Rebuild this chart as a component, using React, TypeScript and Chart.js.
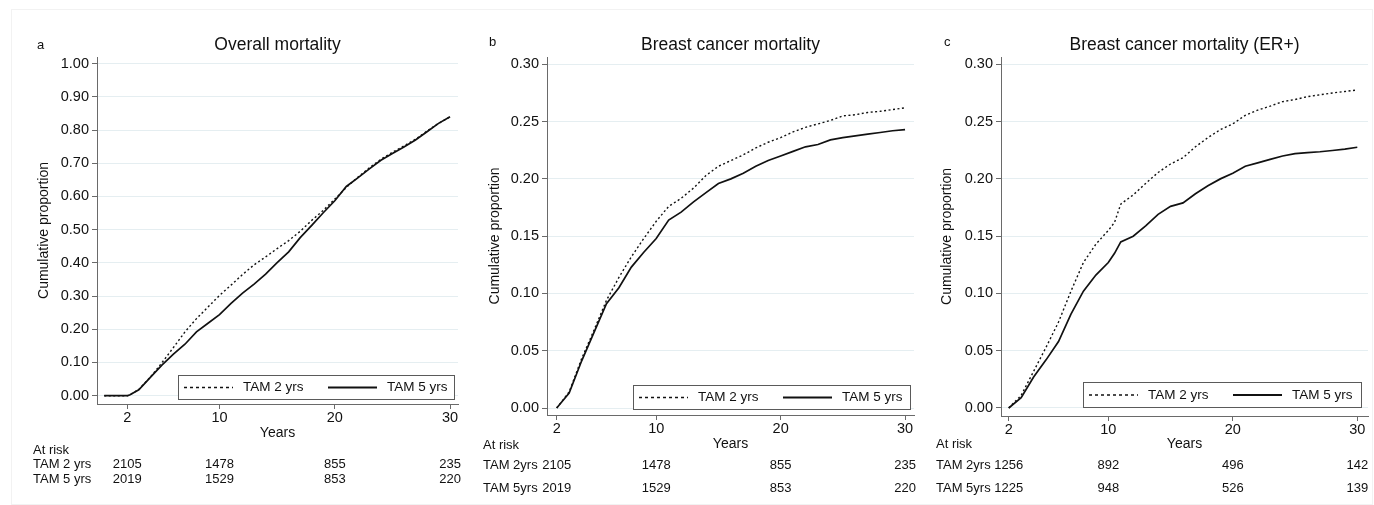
import React, { useEffect, useRef } from "react";
import { Chart, registerables } from "chart.js";

Chart.register(...registerables);

// ---------- DATA ----------
const xTickValues = [2, 10, 20, 30];

const yTicksA = [0, 0.1, 0.2, 0.3, 0.4, 0.5, 0.6, 0.7, 0.8, 0.9, 1.0];
const yTicksBC = [0, 0.05, 0.1, 0.15, 0.2, 0.25, 0.3];

const yearsA = [0, 2, 2.2, 3, 4, 5, 6, 7, 8, 9, 10, 11, 12, 13, 14, 15, 16, 17, 18, 19, 20, 21, 22, 23, 24, 25, 26, 27, 28, 29, 30];
const tam2A = [0, 0, 0.002, 0.019, 0.056, 0.099, 0.145, 0.192, 0.232, 0.267, 0.302, 0.333, 0.365, 0.394, 0.418, 0.443, 0.467, 0.495, 0.528, 0.558, 0.592, 0.627, 0.658, 0.686, 0.712, 0.733, 0.752, 0.772, 0.797, 0.820, 0.840];
const tam5A = [0, 0, 0.002, 0.018, 0.055, 0.092, 0.125, 0.155, 0.192, 0.218, 0.244, 0.278, 0.309, 0.336, 0.366, 0.401, 0.433, 0.476, 0.513, 0.551, 0.587, 0.630, 0.656, 0.683, 0.709, 0.729, 0.749, 0.770, 0.795, 0.820, 0.840];

const yearsB = [2, 3, 4, 5, 6, 7, 8, 9, 10, 11, 12, 13, 14, 15, 16, 17, 18, 19, 20, 21, 22, 23, 24, 25, 26, 27, 28, 29, 30];
const tam2B = [0, 0.014, 0.043, 0.068, 0.094, 0.114, 0.132, 0.148, 0.163, 0.176, 0.183, 0.192, 0.203, 0.211, 0.216, 0.221, 0.227, 0.232, 0.236, 0.241, 0.245, 0.248, 0.251, 0.255, 0.256, 0.258, 0.259, 0.2605, 0.262];
const tam5B = [0, 0.013, 0.041, 0.066, 0.091, 0.105, 0.123, 0.136, 0.148, 0.164, 0.171, 0.180, 0.188, 0.196, 0.200, 0.205, 0.211, 0.216, 0.220, 0.224, 0.228, 0.230, 0.234, 0.236, 0.2375, 0.239, 0.2405, 0.242, 0.243];

const yearsC = [2, 3, 4, 5, 6, 7, 8, 9, 10, 10.5, 11, 12, 13, 14, 15, 16, 17, 18, 19, 20, 21, 22, 23, 24, 25, 26, 27, 28, 29, 30];
const tam2C = [0, 0.011, 0.032, 0.053, 0.075, 0.102, 0.127, 0.143, 0.155, 0.162, 0.178, 0.186, 0.196, 0.2056, 0.213, 0.2185, 0.228, 0.236, 0.243, 0.248, 0.2555, 0.260, 0.2635, 0.2674, 0.2693, 0.2718, 0.2734, 0.275, 0.2763, 0.2776];
const tam5C = [0, 0.009, 0.027, 0.042, 0.058, 0.082, 0.102, 0.116, 0.127, 0.135, 0.145, 0.150, 0.159, 0.169, 0.176, 0.179, 0.187, 0.194, 0.200, 0.205, 0.211, 0.214, 0.217, 0.220, 0.222, 0.223, 0.2237, 0.2248, 0.226, 0.2276];

const riskA2 = [2105, 1478, 855, 235];
const riskA5 = [2019, 1529, 853, 220];
const riskB2 = [2105, 1478, 855, 235];
const riskB5 = [2019, 1529, 853, 220];
const riskC2 = [1256, 892, 496, 142];
const riskC5 = [1225, 948, 526, 139];

// ---------- STYLE / LAYOUT ----------
const W = 1374;
const H = 505;
const YW = 60;
const XH = 40;
const FONT = '"Liberation Sans", Arial, Helvetica, sans-serif';
const TEXT = "#111111";
const AXIS = "#6a6a6a";
const GRID = "#e5eef1";

type Panel = {
  letter: string;
  title: string;
  years: number[];
  tam2: number[];
  tam5: number[];
  yTicks: number[];
  risk2: number[];
  risk5: number[];
  rowLabels: string[];
  area: { left: number; right: number; top: number; bottom: number };
  xRange: [number, number];
  yRange: [number, number];
  letterPos: [number, number];
  yTitleX: number;
  yearsY: number;
  atRiskY: number;
  rowY: [number, number];
  labelX: number;
  legend: { x: number; y: number; w: number; h: number };
};

const panels: Panel[] = [
  {
    letter: "a",
    title: "Overall mortality",
    years: yearsA,
    tam2: tam2A,
    tam5: tam5A,
    yTicks: yTicksA,
    risk2: riskA2,
    risk5: riskA5,
    rowLabels: ["TAM 2 yrs", "TAM 5 yrs"],
    area: { left: 97, right: 458, top: 57, bottom: 404 },
    xRange: [-0.629, 30.69],
    yRange: [-0.025, 1.0199],
    letterPos: [37, 48.5],
    yTitleX: 44.5,
    yearsY: 433,
    atRiskY: 450,
    rowY: [464.5, 479.5],
    labelX: 33,
    legend: { x: 178, y: 375, w: 276, h: 24 },
  },
  {
    letter: "b",
    title: "Breast cancer mortality",
    years: yearsB,
    tam2: tam2B,
    tam5: tam5B,
    yTicks: yTicksBC,
    risk2: riskB2,
    risk5: riskB5,
    rowLabels: ["TAM 2yrs", "TAM 5yrs"],
    area: { left: 547, right: 914, top: 57, bottom: 415 },
    xRange: [1.22, 30.72],
    yRange: [-0.0061, 0.3064],
    letterPos: [489, 45.5],
    yTitleX: 495,
    yearsY: 444,
    atRiskY: 445,
    rowY: [465.7, 488.3],
    labelX: 483,
    legend: { x: 633, y: 385, w: 277, h: 24 },
  },
  {
    letter: "c",
    title: "Breast cancer mortality (ER+)",
    years: yearsC,
    tam2: tam2C,
    tam5: tam5C,
    yTicks: yTicksBC,
    risk2: riskC2,
    risk5: riskC5,
    rowLabels: ["TAM 2yrs", "TAM 5yrs"],
    area: { left: 1001, right: 1368, top: 57, bottom: 416 },
    xRange: [1.38, 30.86],
    yRange: [-0.007, 0.3064],
    letterPos: [944, 46],
    yTitleX: 947.5,
    yearsY: 444,
    atRiskY: 444,
    rowY: [465.3, 488.3],
    labelX: 936,
    legend: { x: 1083, y: 382, w: 278, h: 25 },
  },
];

function makeDecor(p: Panel) {
  return {
    id: "decor_" + p.letter,
    afterDraw(chart: any) {
      const ctx = chart.ctx as CanvasRenderingContext2D;
      const ca = chart.chartArea;
      const xs = chart.scales.x;
      ctx.save();
      ctx.fillStyle = TEXT;

      // letter
      ctx.font = `13px ${FONT}`;
      ctx.textAlign = "left";
      ctx.textBaseline = "alphabetic";
      ctx.fillText(p.letter, p.letterPos[0], p.letterPos[1]);

      // title
      ctx.font = `17.5px ${FONT}`;
      ctx.textAlign = "center";
      ctx.fillText(p.title, (ca.left + ca.right) / 2, 50);

      // y title
      ctx.save();
      ctx.translate(p.yTitleX, (ca.top + ca.bottom) / 2);
      ctx.rotate(-Math.PI / 2);
      ctx.font = `14px ${FONT}`;
      ctx.textAlign = "center";
      ctx.textBaseline = "middle";
      ctx.fillText("Cumulative proportion", 0, 0);
      ctx.restore();

      // x title
      ctx.font = `14px ${FONT}`;
      ctx.textAlign = "center";
      ctx.textBaseline = "middle";
      ctx.fillText("Years", (ca.left + ca.right) / 2, p.yearsY);

      // at risk table
      ctx.font = `13px ${FONT}`;
      ctx.textAlign = "left";
      ctx.fillText("At risk", p.labelX, p.atRiskY);
      const rows = [p.risk2, p.risk5];
      rows.forEach((row, r) => {
        ctx.textAlign = "left";
        ctx.fillText(p.rowLabels[r], p.labelX, p.rowY[r]);
        ctx.textAlign = "center";
        row.forEach((n, i) => {
          ctx.fillText(String(n), xs.getPixelForValue(xTickValues[i]), p.rowY[r]);
        });
      });

      // legend
      const L = p.legend;
      ctx.fillStyle = "#ffffff";
      ctx.fillRect(L.x, L.y, L.w, L.h);
      ctx.strokeStyle = "#5a5a5a";
      ctx.lineWidth = 1;
      ctx.strokeRect(L.x + 0.5, L.y + 0.5, L.w, L.h);
      const cy = L.y + L.h / 2 + 0.5;
      ctx.strokeStyle = "#111";
      ctx.lineWidth = 1.5;
      ctx.setLineDash([3, 3]);
      ctx.beginPath();
      ctx.moveTo(L.x + 6, cy);
      ctx.lineTo(L.x + 55, cy);
      ctx.stroke();
      ctx.setLineDash([]);
      ctx.lineWidth = 1.8;
      ctx.beginPath();
      ctx.moveTo(L.x + 150, cy);
      ctx.lineTo(L.x + 199, cy);
      ctx.stroke();
      ctx.fillStyle = TEXT;
      ctx.font = `13.5px ${FONT}`;
      ctx.textAlign = "left";
      ctx.textBaseline = "middle";
      const ds = chart.data.datasets;
      ctx.fillText(ds[0].label, L.x + 65, cy);
      ctx.fillText(ds[1].label, L.x + 209, cy);
      ctx.restore();
    },
  };
}

function makeChart(canvas: HTMLCanvasElement, p: Panel) {
  const toPts = (ys: number[]) => p.years.map((x, i) => ({ x, y: ys[i] }));
  return new Chart(canvas, {
    type: "line",
    data: {
      datasets: [
        {
          label: "TAM 2 yrs",
          data: toPts(p.tam2),
          borderColor: "#111",
          borderWidth: 1.4,
          borderDash: [2, 2.5],
          pointRadius: 0,
          fill: false,
          tension: 0,
        },
        {
          label: "TAM 5 yrs",
          data: toPts(p.tam5),
          borderColor: "#111",
          borderWidth: 1.7,
          pointRadius: 0,
          fill: false,
          tension: 0,
        },
      ],
    },
    options: {
      animation: false,
      responsive: false,
      devicePixelRatio: 1,
      layout: {
        padding: {
          left: p.area.left - YW,
          right: W - p.area.right,
          top: p.area.top,
          bottom: H - p.area.bottom - XH,
        },
      },
      plugins: {
        legend: { display: false },
        tooltip: { enabled: false },
      },
      scales: {
        x: {
          type: "linear",
          min: p.xRange[0],
          max: p.xRange[1],
          afterBuildTicks: (s: any) => {
            s.ticks = xTickValues.map((v) => ({ value: v }));
          },
          afterFit: (s: any) => {
            s.height = XH;
          },
          grid: {
            drawOnChartArea: false,
            drawTicks: true,
            tickLength: 5,
            tickColor: AXIS,
          },
          border: { display: true, color: AXIS, width: 1 },
          ticks: {
            autoSkip: false,
            maxRotation: 0,
            padding: 0,
            color: TEXT,
            font: { family: FONT, size: 14.5 },
            callback: (v: any) => String(v),
          },
        },
        y: {
          type: "linear",
          min: p.yRange[0],
          max: p.yRange[1],
          afterBuildTicks: (s: any) => {
            s.ticks = p.yTicks.map((v) => ({ value: v }));
          },
          afterFit: (s: any) => {
            s.width = YW;
          },
          grid: {
            color: GRID,
            lineWidth: 1,
            drawTicks: true,
            tickLength: 5,
            tickColor: AXIS,
          },
          border: { display: true, color: AXIS, width: 1 },
          ticks: {
            padding: 3,
            color: TEXT,
            font: { family: FONT, size: 14.5 },
            callback: (v: any) => Number(v).toFixed(2),
          },
        },
      },
    },
    plugins: [makeDecor(p)],
  } as any);
}

export default function App() {
  const refs = [useRef<HTMLCanvasElement>(null), useRef<HTMLCanvasElement>(null), useRef<HTMLCanvasElement>(null)];

  useEffect(() => {
    const charts = panels.map((p, i) => makeChart(refs[i].current as HTMLCanvasElement, p));
    return () => charts.forEach((c) => c.destroy());
  }, []);

  return (
    <div style={{ position: "fixed", left: 0, top: 0, width: W, height: H, background: "#ffffff", overflow: "hidden" }}>
      <div
        style={{
          position: "absolute",
          left: 11,
          top: 9,
          width: W - 12,
          height: H - 9,
          border: "1px solid #f2f2f2",
          boxSizing: "border-box",
        }}
      />
      {refs.map((r, i) => (
        <canvas
          key={i}
          ref={r}
          width={W}
          height={H}
          style={{ position: "absolute", left: 0, top: 0, width: W, height: H }}
        />
      ))}
    </div>
  );
}
